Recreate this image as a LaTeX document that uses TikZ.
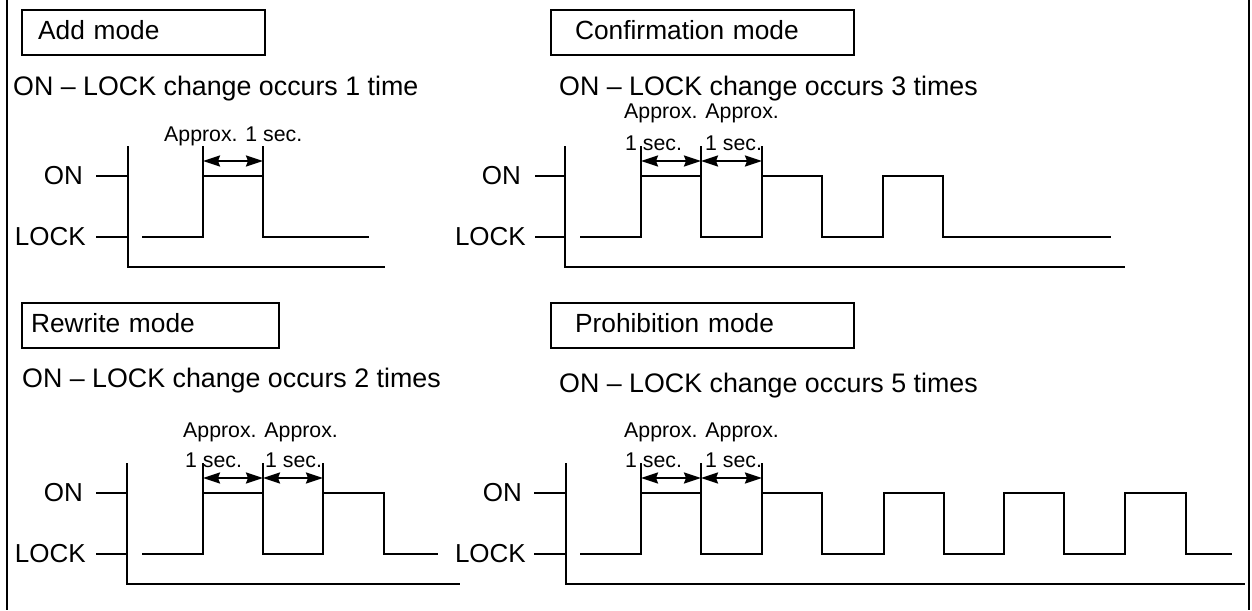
\documentclass[tikz,border=0pt]{standalone}
\usepackage{fontspec}
\setmainfont{Liberation Sans}
\usetikzlibrary{arrows.meta}
\begin{document}
\begin{tikzpicture}[x=1pt,y=-1pt,
  sig/.style={line width=2.2pt, line join=miter},
  axisline/.style={line width=2.2pt},
  frameline/.style={line width=2.5pt},
  modebox/.style={draw, line width=2.2pt, anchor=north west, inner ysep=10pt,
    text height=19pt, text depth=6pt, align=left, font=\fontsize{26.3}{30}\selectfont},
  big/.style={font=\fontsize{26.8}{31}\selectfont, inner sep=0pt},
  lab/.style={font=\fontsize{26}{30}\selectfont, inner sep=0pt},
  small/.style={font=\fontsize{21.3}{25}\selectfont, inner sep=0pt},
  dim/.style={line width=2.2pt, {Stealth[length=17pt,width=11pt,inset=2pt]}-{Stealth[length=17pt,width=11pt,inset=2pt]}},
  ext/.style={line width=2.2pt}]
\useasboundingbox (0,0) rectangle (1252,610);
% frame
\coordinate (fl1) at (7,0); \coordinate (fl2) at (7,610);
\coordinate (fr1) at (1249,0); \coordinate (fr2) at (1249,610);
\draw[frameline] (fl1) -- (fl2);
\draw[frameline] (fr1) -- (fr2);

% ================= Add mode =================
\node[modebox, inner xsep=16pt, text width=211pt] (addbox) at (21,9) {Add mode};
\node[big, anchor=base west] (addsub) at (13,95) {ON – LOCK change occurs 1 time};
\draw[axisline] (128,146) -- (128,267) -- (385,267);
\draw[axisline] (96,176) -- (128,176);
\draw[axisline] (96,237) -- (128,237);
\node[lab, anchor=east] (addon) at (83,176) {ON};
\node[lab, anchor=east] (addlock) at (86,237) {LOCK};
\draw[sig] (142,237) -- (203,237) -- (203,176) -- (263,176) -- (263,237) -- (369,237);
\coordinate (ae1) at (203,161); \coordinate (ae2) at (263,161);
\draw[ext] (203,176) -- (203,146);
\draw[ext] (263,176) -- (263,146);
\draw[dim] (ae1) -- (ae2);
\node[small, anchor=base west] (addapp) at (164,141) {Approx. 1 sec.};

% ================= Confirmation mode =================
\node[modebox, inner xsep=24pt, text width=255pt] (confbox) at (550,9) {Confirmation mode};
\node[big, anchor=base west] (confsub) at (559,95) {ON – LOCK change occurs 3 times};
\draw[axisline] (565,146) -- (565,267) -- (1125,267);
\draw[axisline] (535,176) -- (565,176);
\draw[axisline] (535,237) -- (565,237);
\node[lab, anchor=east] (confon) at (521,176) {ON};
\node[lab, anchor=east] (conflock) at (526,237) {LOCK};
\draw[sig] (580,237) -- (641,237) -- (641,176) -- (701,176) -- (701,237) -- (762,237)
  -- (762,176) -- (822,176) -- (822,237) -- (883,237) -- (883,176) -- (943,176)
  -- (943,237) -- (1111,237);
\draw[ext] (641,176) -- (641,146);
\draw[ext] (701,176) -- (701,146);
\draw[ext] (762,176) -- (762,146);
\coordinate (ce1) at (641,161); \coordinate (ce2) at (701,161); \coordinate (ce3) at (762,161);
\draw[dim] (ce1) -- (ce2);
\draw[dim] (ce2) -- (ce3);
\node[small, anchor=base west] (confapp) at (624,118) {Approx. Approx.};
\node[small, anchor=base west] (confs1) at (625,150) {1 sec.};
\node[small, anchor=base west] (confs2) at (705,150) {1 sec.};

% ================= Rewrite mode =================
\node[modebox, inner xsep=9pt, text width=239pt] (rewbox) at (21,302) {Rewrite mode};
\node[big, anchor=base west] (rewsub) at (22,387) {ON – LOCK change occurs 2 times};
\draw[axisline] (127,463) -- (127,584) -- (460,584);
\draw[axisline] (96,493) -- (127,493);
\draw[axisline] (96,554) -- (127,554);
\node[lab, anchor=east] (rewon) at (83,493) {ON};
\node[lab, anchor=east] (rewlock) at (86,554) {LOCK};
\draw[sig] (142,554) -- (203,554) -- (203,493) -- (263,493) -- (263,554) -- (323,554)
  -- (323,493) -- (384,493) -- (384,554) -- (438,554);
\draw[ext] (203,493) -- (203,463);
\draw[ext] (263,493) -- (263,463);
\draw[ext] (323,493) -- (323,463);
\coordinate (re1) at (203,478); \coordinate (re2) at (263,478); \coordinate (re3) at (323,478);
\draw[dim] (re1) -- (re2);
\draw[dim] (re2) -- (re3);
\node[small, anchor=base west] (rewapp) at (183,437) {Approx. Approx.};
\node[small, anchor=base west] (rews1) at (185,467) {1 sec.};
\node[small, anchor=base west] (rews2) at (265,467) {1 sec.};

% ================= Prohibition mode =================
\node[modebox, inner xsep=24pt, text width=255pt] (probox) at (550,302) {Prohibition mode};
\node[big, anchor=base west] (prosub) at (559,392) {ON – LOCK change occurs 5 times};
\draw[axisline] (566,463) -- (566,584) -- (1245,584);
\draw[axisline] (534,493) -- (566,493);
\draw[axisline] (534,554) -- (566,554);
\node[lab, anchor=east] (proon) at (522,493) {ON};
\node[lab, anchor=east] (prolock) at (526,554) {LOCK};
\draw[sig] (580,554) -- (641,554) -- (641,493) -- (701,493) -- (701,554) -- (762,554)
  -- (762,493) -- (822,493) -- (822,554) -- (884,554) -- (884,493) -- (944,493)
  -- (944,554) -- (1004,554) -- (1004,493) -- (1064,493) -- (1064,554) -- (1125,554)
  -- (1125,493) -- (1186,493) -- (1186,554) -- (1232,554);
\draw[ext] (641,493) -- (641,463);
\draw[ext] (701,493) -- (701,463);
\draw[ext] (762,493) -- (762,463);
\coordinate (pe1) at (641,478); \coordinate (pe2) at (701,478); \coordinate (pe3) at (762,478);
\draw[dim] (pe1) -- (pe2);
\draw[dim] (pe2) -- (pe3);
\node[small, anchor=base west] (proapp) at (624,437) {Approx. Approx.};
\node[small, anchor=base west] (pros1) at (625,467) {1 sec.};
\node[small, anchor=base west] (pros2) at (705,467) {1 sec.};
\end{tikzpicture}
\end{document}
